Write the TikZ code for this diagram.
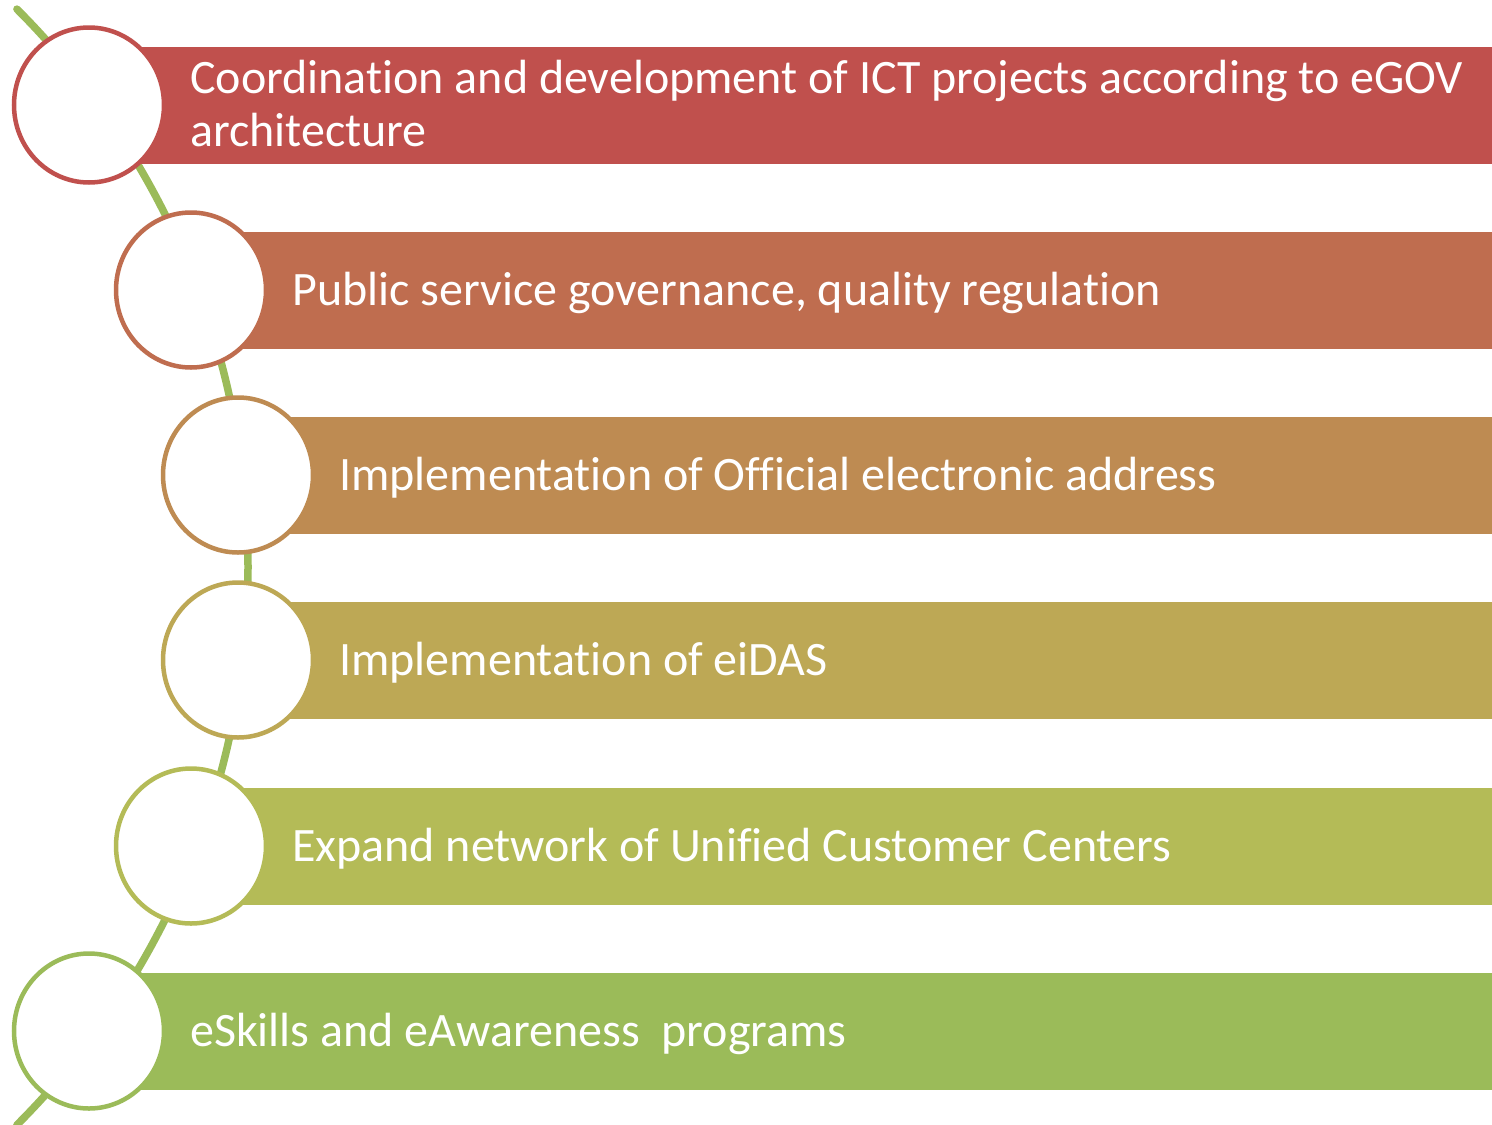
\documentclass[tikz,border=0pt]{standalone}
\usepackage{fontspec}
\setmainfont{Carlito}[Ligatures=NoCommon]
\usetikzlibrary{positioning,shapes.geometric}

\definecolor{lvl1}{RGB}{192,80,77}
\definecolor{lvl2}{RGB}{191,109,79}
\definecolor{lvl3}{RGB}{190,139,82}
\definecolor{lvl4}{RGB}{189,168,85}
\definecolor{lvl5}{RGB}{180,187,87}
\definecolor{lvl6}{RGB}{155,187,89}

\begin{document}
\begin{tikzpicture}[x=1pt, y=-1pt,
        bar/.style={anchor=west, minimum height=117pt, inner sep=0pt},
        disc/.style={ellipse, fill=white, line width=4.5pt, minimum width=150pt,
                minimum height=155pt, inner sep=0pt},
        itemtext/.style={anchor=base west, text=white, align=left, inner sep=0pt,
                font=\fontsize{48}{53}\selectfont}]
        \useasboundingbox (0,0) rectangle (1492,1125);

        % timeline behind the discs
        \draw[lvl6, line width=7.5pt, line cap=round]
                (-541,567) ++(45:789pt) arc [start angle=45, end angle=-45, radius=789pt];

        % last field: baseline of the (last) text line below the bar centre
        \foreach \i/\cx/\cy/\txt/\dy in {
                1/89/105/{Coordination and development of ICT projects according to eGOV\\architecture}/41,
                2/191/290/{Public service governance, quality regulation}/15,
                3/238/475/{Implementation of Official electronic address}/15,
                4/238/660/{Implementation of eiDAS}/15,
                5/191/846/{Expand network of Unified Customer Centers}/15,
                6/89/1031/{eSkills and eAwareness~ programs}/15} {
                \pgfmathsetmacro\w{1492-\cx}
                \node[bar, fill=lvl\i, minimum width=\w pt] (bar\i) at (\cx,\cy) {};
                \node[disc, draw=lvl\i] (dot\i) at (\cx,\cy) {};
                \node[itemtext] (item\i) at (\cx+101,\cy+\dy) {\txt};
        }
\end{tikzpicture}
\end{document}
